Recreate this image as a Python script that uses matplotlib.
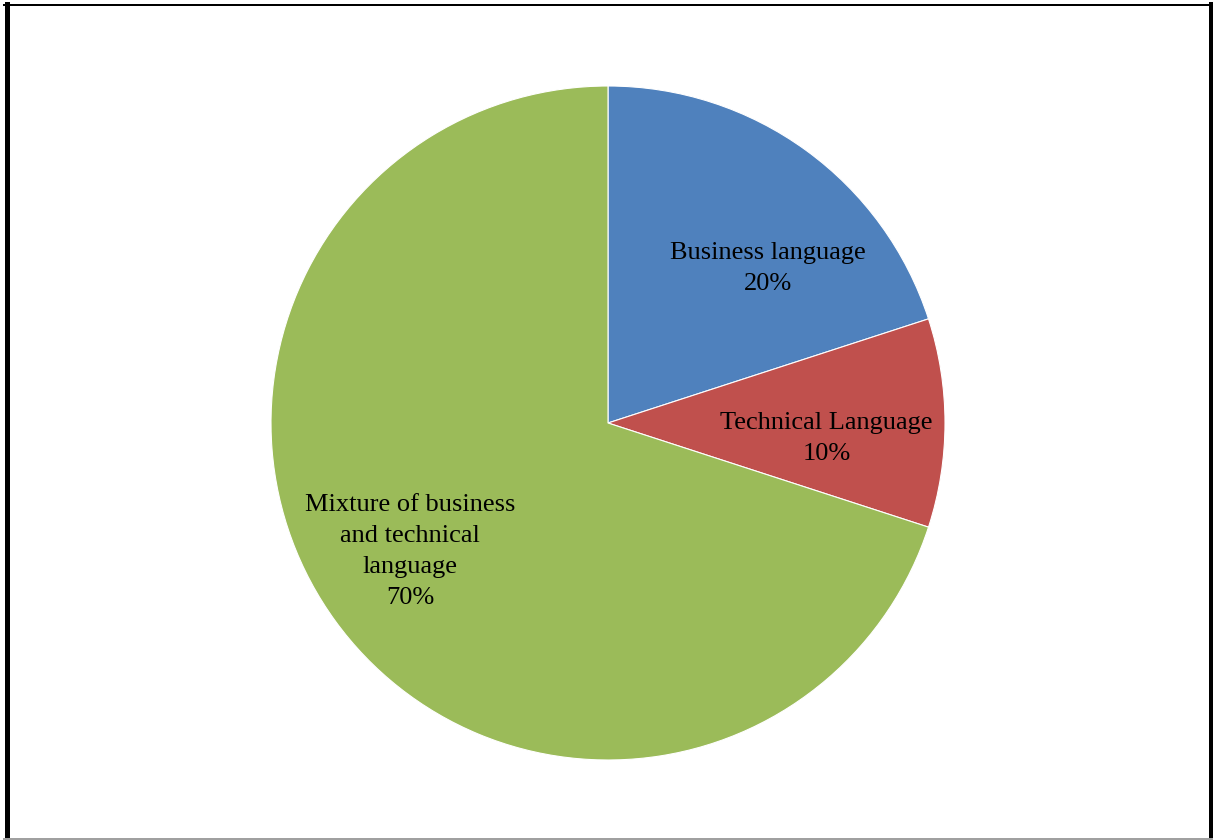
import matplotlib.pyplot as plt
from matplotlib.lines import Line2D
import numpy as np

categories = ["Business language", "Technical Language",
              "Mixture of business\nand technical\nlanguage"]
shares = [20, 10, 70]
colors = ["#4F81BD", "#C0504D", "#9BBB59"]

# label placement inside each wedge (angle in degrees, fraction of radius)
label_angles = [44, -4, 213]
label_radii = [0.66, 0.65, 0.70]

W, H = 1213, 840
fig = plt.figure(figsize=(W / 100, H / 100), dpi=100)
cx, cy, r = 608, 423, 337
ax = fig.add_axes([(cx - r) / W, (H - cy - r) / H, 2 * r / W, 2 * r / H])

ax.pie(shares, colors=colors, startangle=90, counterclock=False,
       radius=1, wedgeprops=dict(edgecolor="white", linewidth=0.8))
ax.set_xlim(-1, 1)
ax.set_ylim(-1, 1)
ax.set_aspect("equal")
ax.axis("off")

for name, val, ang, rad in zip(categories, shares, label_angles, label_radii):
    a = np.deg2rad(ang)
    ax.text(rad * np.cos(a), rad * np.sin(a), f"{name}\n{val}%",
            ha="center", va="center", multialignment="center",
            fontsize=19, family="Liberation Serif", color="black",
            linespacing=1.52)

# frame around the chart
def px(x, y):
    return x / W, 1 - y / H

for (x0, y0), (x1, y1), lw, c in [
        ((6.5, 4), (6.5, 840), 5, "black"),
        ((4, 5), (1213, 5), 2, "black"),
        ((1210.5, 4), (1210.5, 840), 5, "black"),
        ((4, 839), (1213, 839), 2, "#a0a0a0")]:
    p0, p1 = px(x0, y0), px(x1, y1)
    fig.add_artist(Line2D([p0[0], p1[0]], [p0[1], p1[1]], color=c,
                          linewidth=lw * 0.72, transform=fig.transFigure))

fig.savefig("out.png", dpi=100)
